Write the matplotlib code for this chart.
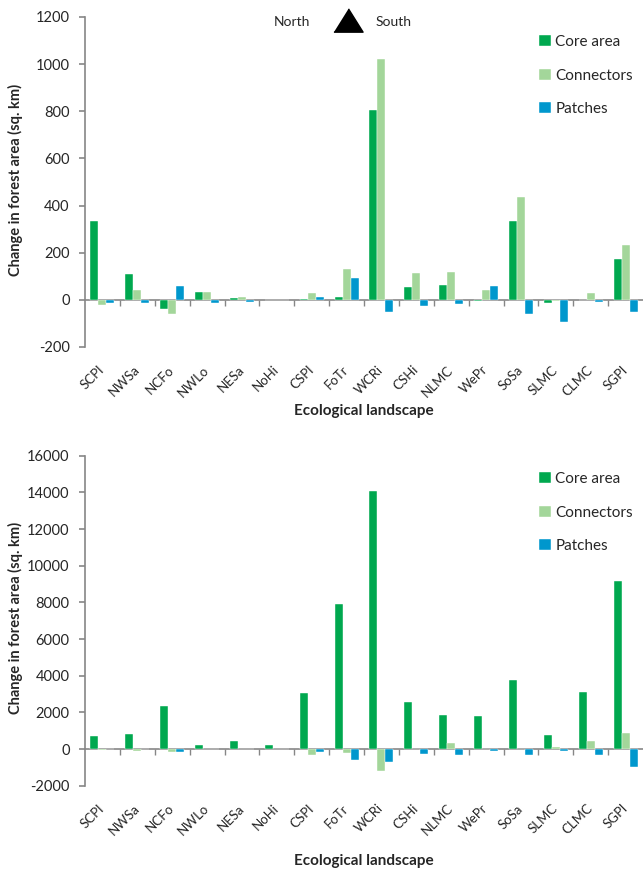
import matplotlib
matplotlib.use("Agg")
import matplotlib.pyplot as plt
from matplotlib.lines import Line2D
import numpy as np

# Ecological landscapes, ordered north to south
landscapes = ["SCPl", "NWSa", "NCFo", "NWLo", "NESa", "NoHi", "CSPl", "FoTr",
              "WCRi", "CSHi", "NLMC", "WePr", "SoSa", "SLMC", "CLMC", "SGPl"]

# top panel (sq. km)
core_top = [333, 110, -40, 34, 8, 0, 5, 14, 804, 55, 62, -3, 336, -13, 0, 173]
conn_top = [-20, 41, -62, 34, 13, 0, 30, 133, 1021, 112, 119, 41, 438, -6, 28, 234]
patch_top = [-14, -15, 58, -14, -7, 0, 13, 94, -50, -27, -18, 58, -58, -95, -11, -50]

# bottom panel
core_bot = [691, 818, 2327, 200, 418, 218, 3054, 7927, 14090, 2563, 1873, 1800, 3763, 745, 3090, 9163]
conn_bot = [-30, -90, -145, 0, 0, 0, -345, -200, -1200, 0, 327, 0, 0, 110, 418, 873]
patch_bot = [0, 0, -180, 0, 0, 0, -164, -582, -690, -255, -310, -127, -310, -90, -345, -963]

c_core = "#00a84f"
c_conn = "#a3d69a"
c_patch = "#0097cd"
grey = "#868686"
txt = "#262626"

plt.rcParams["font.family"] = ["Lato", "DejaVu Sans"]
plt.rcParams["axes.unicode_minus"] = False

W, H = 643, 875
fig = plt.figure(figsize=(W / 100, H / 100), dpi=100)


def panel(top_px, bot_px, core, conn, patch, ymin, ymax, step, leg_top, xlab_y, ylab_y):
    ax = fig.add_axes([85 / W, 1 - bot_px / H, (W - 85) / W, (bot_px - top_px) / H])
    x = np.arange(len(landscapes))
    w = 0.229
    ax.bar(x - w, core, w, color=c_core, label="Core area", edgecolor="white", linewidth=0.3)
    ax.bar(x, conn, w, color=c_conn, label="Connectors", edgecolor="white", linewidth=0.3)
    ax.bar(x + w, patch, w, color=c_patch, label="Patches", edgecolor="white", linewidth=0.3)
    ax.set_xlim(-0.5, len(landscapes) - 0.5)
    ax.set_ylim(ymin, ymax)
    ax.set_yticks(np.arange(ymin, ymax + 1, step))
    for s in ["top", "right", "bottom"]:
        ax.spines[s].set_visible(False)
    ax.spines["left"].set_color(grey)
    ax.spines["left"].set_linewidth(1.2)
    ax.tick_params(axis="y", colors=grey, labelcolor=txt, length=4, width=1.2,
                   labelsize=10.5, pad=7)
    ax.set_xticks(x)
    ax.set_xticklabels(landscapes, rotation=45, ha="right", va="center",
                       rotation_mode="anchor", fontsize=9.5, color=txt)
    ax.tick_params(axis="x", length=0, pad=15)

    # zero line with category separators
    zpos = (0 - ymin) / (ymax - ymin)
    sec = ax.secondary_xaxis(zpos)
    sec.spines["bottom"].set_color(grey)
    sec.spines["bottom"].set_linewidth(1.2)
    sec.set_xticks(np.arange(0.5, len(landscapes) - 1, 1.0))
    sec.set_xticklabels([])
    sec.tick_params(axis="x", direction="out", length=4, width=1, colors=grey)

    leg = ax.legend(loc="upper left", bbox_to_anchor=((533 - 85) / (W - 85), 1 - (leg_top - top_px) / (bot_px - top_px)),
                    frameon=False, fontsize=11, handlelength=0.75, handleheight=0.75,
                    handletextpad=0.3, labelspacing=1.28, borderaxespad=0)
    for t in leg.get_texts():
        t.set_color(txt)

    fig.text(85 / W + (W - 85) / W / 2, 1 - xlab_y / H, "Ecological landscape",
             ha="center", va="center", fontsize=11, fontweight="bold", color=txt)
    fig.text(15 / W, 1 - ylab_y / H, "Change in forest area (sq. km)",
             rotation=90, ha="center", va="center", fontsize=10.5, fontweight="bold", color=txt)
    return ax


ax1 = panel(17, 347, core_top, conn_top, patch_top, -200, 1200, 200, 29, 411, 180)
ax2 = panel(455.7, 785.7, core_bot, conn_bot, patch_bot, -2000, 16000, 2000, 466, 861, 618)

# North / South marker
fig.text(292 / W, 1 - 22 / H, "North", ha="center", va="center", fontsize=10, color=txt)
fig.text(394 / W, 1 - 22 / H, "South", ha="center", va="center", fontsize=10, color=txt)
tri = Line2D([347.5 / W], [1 - 19.5 / H], transform=fig.transFigure, linestyle="none",
             marker=[(-1, -0.8), (1, -0.8), (0, 0.8)], markersize=21, color="black")
fig.add_artist(tri)

fig.savefig("out.png", dpi=100)
